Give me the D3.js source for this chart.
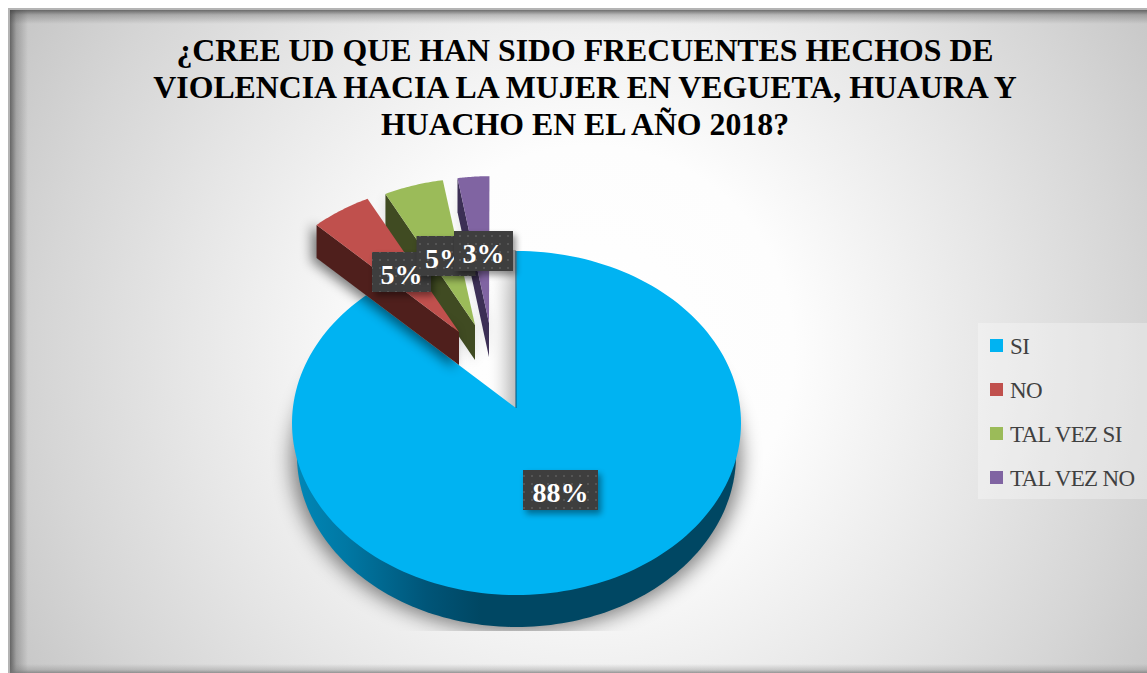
<!DOCTYPE html>
<html><head><meta charset="utf-8">
<script src="https://cdn.jsdelivr.net/npm/d3@7/dist/d3.min.js"></script>
<style>html,body{margin:0;padding:0;background:#fff;overflow:hidden}svg{display:block}</style>
</head><body>
<script>
const categories = ["SI","NO","TAL VEZ SI","TAL VEZ NO"];
const values = [88.4,4.6,4.6,2.5];
const percentLabels = ["88%","5%","5%","3%"];
const titleLines = ["¿CREE UD QUE HAN SIDO FRECUENTES HECHOS DE","VIOLENCIA HACIA LA MUJER EN VEGUETA, HUAURA Y","HUACHO EN EL AÑO 2018?"];
const topColors = ["#00b3f2","#c0504d","#9bbb59","#8064a2"];
const sideColors = ["#00486a","#4f1f1c","#404b22","#3c2f55"];
// layout
const W=1147,H=673;
const explodeDx=[0,-57,-41,-27], explodeDy=[0,-76,-83,-85];
const shrinkX=[1,.95,.93,.91], shrinkY=[1,.95,.935,.935];
const depths=[32,33,35,34];
const labelBoxes=[[560.5,490],[401.5,272],[446,256],[483.5,251]];

const svg=d3.select("body").append("svg").attr("width",W).attr("height",H);
const defs=svg.append("defs");
const bg=defs.append("radialGradient").attr("id","bg").attr("gradientUnits","userSpaceOnUse")
 .attr("cx",590).attr("cy",350).attr("r",680);
[[0,"#ffffff"],[.3,"#fdfdfd"],[.6,"#e6e6e6"],[.8,"#d6d6d6"],[1,"#c4c4c4"]].forEach(s=>bg.append("stop").attr("offset",s[0]).attr("stop-color",s[1]));
const sideG=defs.append("linearGradient").attr("id","sideBlue").attr("gradientUnits","userSpaceOnUse")
 .attr("x1",292).attr("x2",741).attr("y1",0).attr("y2",0);
[[0,"#0088b8"],[.12,"#0078a4"],[.3,"#005578"],[.42,"#004763"],[1,"#004763"]].forEach(s=>sideG.append("stop").attr("offset",s[0]).attr("stop-color",s[1]));
const notch=defs.append("linearGradient").attr("id","notch").attr("gradientUnits","userSpaceOnUse")
 .attr("x1",486).attr("x2",516).attr("y1",0).attr("y2",0);
notch.append("stop").attr("offset",0).attr("stop-color","#fff").attr("stop-opacity",0);
notch.append("stop").attr("offset",1).attr("stop-color","#bdbdbd");
const edgeGrad=(id,x1,y1,x2,y2,col)=>{
  const g=defs.append("linearGradient").attr("id",id).attr("gradientUnits","userSpaceOnUse")
   .attr("x1",x1).attr("y1",y1).attr("x2",x2).attr("y2",y2);
  g.append("stop").attr("offset",0).attr("stop-color",col).attr("stop-opacity",.75);
  g.append("stop").attr("offset",.35).attr("stop-color",col).attr("stop-opacity",.3);
  g.append("stop").attr("offset",1).attr("stop-color",col).attr("stop-opacity",0);
};
edgeGrad("edgeL",10,0,28,0,"#444");
edgeGrad("edgeT",0,10,0,24,"#444");
edgeGrad("edgeB",0,673,0,664,"#777");
const blur=(id,sd)=>defs.append("filter").attr("id",id).attr("x","-30%").attr("y","-30%").attr("width","160%").attr("height","160%").append("feGaussianBlur").attr("stdDeviation",sd);
blur("b10",10);blur("b6",6);blur("b3",3);
const pat=defs.append("pattern").attr("id","dots").attr("width",8).attr("height",8).attr("patternUnits","userSpaceOnUse");
pat.append("rect").attr("width",8).attr("height",8).attr("fill","#3e3e3e");
pat.append("rect").attr("x",3).attr("y",3).attr("width",2).attr("height",2).attr("fill","#555");
defs.append("clipPath").attr("id","plot").append("rect").attr("x",0).attr("y",0).attr("width",W).attr("height",631);

// frame
svg.append("rect").attr("x",8).attr("y",8).attr("width",W-8).attr("height",H-8).attr("fill","#b4b4b4");
svg.append("rect").attr("x",10).attr("y",10).attr("width",W-10).attr("height",H-10).attr("fill","url(#bg)");
svg.append("rect").attr("x",10).attr("y",10).attr("width",18).attr("height",H-10).attr("fill","url(#edgeL)");
svg.append("rect").attr("x",10).attr("y",10).attr("width",W-10).attr("height",14).attr("fill","url(#edgeT)");
svg.append("rect").attr("x",10).attr("y",664).attr("width",W-10).attr("height",9).attr("fill","url(#edgeB)");

// pie
const xR=d3.scaleLinear().domain([-1,1]).range([292,741]);
const yR=d3.scaleLinear().domain([-1,1]).range([595,251]);
const apex=[516,408];
const arcs=d3.pie().sort(null)(values);
const line=d3.line();
const rim=(i,a)=>{
  const ex=xR(Math.sin(a))-apex[0], ey=yR(Math.cos(a))-apex[1];
  return [apex[0]+explodeDx[i]+ex*shrinkX[i], apex[1]+explodeDy[i]+ey*shrinkY[i]];
};
const tip=i=>[apex[0]+explodeDx[i],apex[1]+explodeDy[i]];
const sample=(a0,a1,n=60)=>d3.range(n+1).map(k=>a0+(a1-a0)*k/n);
const shift=(p,d)=>[p[0],p[1]+d];
const narrow=(p,k)=>[apex[0]+(p[0]-apex[0])*k,p[1]];
const pieG=svg.append("g").attr("clip-path","url(#plot)");

// shadow
const blueRim=sample(arcs[0].startAngle,arcs[0].endAngle,180).map(a=>rim(0,a));
pieG.append("path").attr("d",line(blueRim.map(p=>shift(p,36)).concat([shift(apex,36)]))+"Z").attr("fill","#000").attr("opacity",.5).attr("filter","url(#b10)");
// notch wall shadow
pieG.append("path").attr("d",line([[486,250],[516,250],[516,408],[486,385]])+"Z").attr("fill","url(#notch)");

// blue side: a slightly narrower lower rim, visible below the top face
const frontAngles=sample(Math.PI/2,3*Math.PI/2,120);
const lower=frontAngles.map(a=>narrow(shift(rim(0,a),depths[0]),.978));
pieG.append("path").attr("d",line(lower)+"Z").attr("fill","url(#sideBlue)");
pieG.append("path").attr("d",line(blueRim.concat([apex]))+"Z").attr("fill",topColors[0]);
pieG.append("path").attr("d",line([apex,[apex[0],yR(1)]])).attr("stroke","#00527a").attr("stroke-width",1).attr("fill","none");

// exploded slices
[3,2,1].forEach(i=>{
  const d=arcs[i], t=tip(i), c0=rim(i,d.startAngle), dep=depths[i];
  const off=i==1?-5:0;
  pieG.append("path").attr("d",line([[c0[0]+off,c0[1]+dep+3],[t[0]+off,t[1]+dep+3],[t[0]+off,t[1]],[c0[0]+off,c0[1]]])+"Z").attr("fill","#000").attr("opacity",i==1?.5:.12).attr("filter","url(#b6)");
  pieG.append("path").attr("d",line([c0,t,shift(t,dep),shift(c0,dep)])+"Z").attr("fill",sideColors[i]);
  const r=sample(d.startAngle,d.endAngle,24).map(a=>rim(i,a));
  pieG.append("path").attr("d",line(r.concat([t]))+"Z").attr("fill",topColors[i]);
});

// data labels
const labelBox=i=>{
  const [cx,cy]=labelBoxes[i], bw=i==0?75:59, bh=40;
  svg.append("rect").attr("x",cx-bw/2+3).attr("y",cy-bh/2+4).attr("width",bw).attr("height",bh).attr("fill","#000").attr("opacity",.4).attr("filter","url(#b3)");
  svg.append("rect").attr("x",cx-bw/2).attr("y",cy-bh/2).attr("width",bw).attr("height",bh).attr("fill","url(#dots)");
};
const labelText=i=>{
  const [cx,cy]=labelBoxes[i];
  svg.append("text").attr("x",cx).attr("y",cy+11.5).attr("text-anchor","middle")
   .attr("font-family","'Liberation Serif',serif").attr("font-weight","bold").attr("font-size",28).attr("fill","#fff").text(percentLabels[i]);
};
[0,1,2].forEach(labelBox);
[0,1,2].forEach(labelText);
labelBox(3);labelText(3);

// title
svg.append("g").selectAll("text").data(titleLines).join("text")
 .attr("x",585).attr("y",(d,i)=>61+i*37).attr("text-anchor","middle")
 .attr("font-family","'Liberation Serif',serif").attr("font-weight","bold").attr("font-size",31.8).attr("fill","#000").text(d=>d);

// legend
svg.append("rect").attr("x",978).attr("y",323).attr("width",169).attr("height",176).attr("fill","#fff").attr("opacity",.3);
const yL=d3.scalePoint().domain(categories).range([346,478]);
const lg=svg.append("g").selectAll("g").data(categories).join("g").attr("transform",d=>`translate(990,${yL(d)})`);
lg.append("rect").attr("y",-7).attr("width",13).attr("height",13).attr("fill",(d,i)=>topColors[i]);
lg.append("text").attr("x",20).attr("y",8).attr("font-family","'Liberation Serif',serif").attr("font-size",23).attr("letter-spacing",-.65).attr("fill","#404040").text(d=>d);
</script>
</body></html>
